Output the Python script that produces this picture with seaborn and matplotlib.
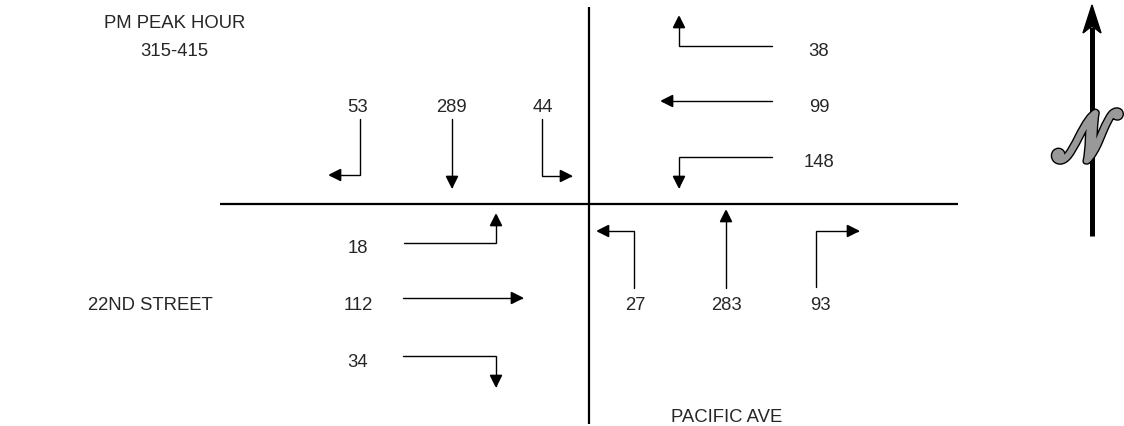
import matplotlib
matplotlib.use("Agg")
import matplotlib.pyplot as plt
import seaborn as sns
from matplotlib.patches import FancyArrowPatch, Polygon
from matplotlib.path import Path
import matplotlib.patheffects as pe

# ---- data ----
title_lines = ["PM PEAK HOUR", "315-415"]
street_ew = "22ND STREET"
street_ns = "PACIFIC AVE"
sb_labels = ["53", "289", "44"]          # SB: right turn(west), through, left turn(east)
wb_labels = ["38", "99", "148"]          # WB: right turn(north), through, left turn(south)
eb_labels = ["18", "112", "34"]          # EB: left turn(north), through, right turn(south)
nb_labels = ["27", "283", "93"]          # NB: left turn(west), through, right turn(east)

sns.set_theme(style="white")
plt.rcParams['font.family'] = ['Liberation Sans', 'DejaVu Sans']
plt.rcParams['mathtext.fontset'] = 'stix'

fig = plt.figure(figsize=(11.24, 4.27), dpi=100)
ax = fig.add_axes([0, 0, 1, 1])
ax.set_xlim(0, 1124)
ax.set_ylim(427, 0)
ax.axis("off")

FS = 13.3
# roads
ax.plot([220, 958], [205, 205], color="black", lw=1.6, solid_capstyle="butt")
ax.plot([589, 589], [8, 425], color="black", lw=1.6, solid_capstyle="butt")

def arrow(verts):
    codes = [Path.MOVETO] + [Path.LINETO] * (len(verts) - 1)
    p = FancyArrowPatch(path=Path(verts, codes),
                        arrowstyle="-|>,head_length=8,head_width=4",
                        mutation_scale=1, color="black", lw=1.0,
                        shrinkA=0, shrinkB=0, joinstyle="miter")
    ax.add_patch(p)

# SB
sb_x = [358, 451, 543]
for x, t in zip(sb_x, sb_labels):
    ax.text(x, 108, t, fontsize=FS, ha="center", va="center")
arrow([(360, 120), (360, 176), (328, 176)])
arrow([(452, 120), (452, 190)])
arrow([(542, 120), (542, 177), (573, 177)])

# WB
wb_y = [52, 108, 163]
for y, t in zip(wb_y, wb_labels):
    ax.text(819, y, t, fontsize=FS, ha="center", va="center")
arrow([(772, 47), (679, 47), (679, 16)])
arrow([(772, 102), (660, 102)])
arrow([(772, 158), (679, 158), (679, 190)])

# EB
eb_y = [249, 306, 363]
for y, t in zip(eb_y, eb_labels):
    ax.text(358, y, t, fontsize=FS, ha="center", va="center")
arrow([(404, 244), (496, 244), (496, 214)])
arrow([(403, 299), (524, 299)])
arrow([(403, 357), (496, 357), (496, 389)])

# NB
nb_x = [635, 727, 820]
for x, t in zip(nb_x, nb_labels):
    ax.text(x, 306, t, fontsize=FS, ha="center", va="center")
arrow([(634, 289), (634, 232), (596, 232)])
arrow([(726, 289), (726, 210)])
arrow([(816, 288), (816, 232), (860, 232)])

# street names and title
ax.text(150, 306, street_ew, fontsize=FS, ha="center", va="center")
ax.text(727, 418, street_ns, fontsize=FS, ha="center", va="center")
ax.text(175, 23, title_lines[0], fontsize=FS, ha="center", va="center")
ax.text(174, 52, title_lines[1], fontsize=FS, ha="center", va="center")

# north arrow
ax.plot([1092, 1092], [237, 28], color="black", lw=3.6, solid_capstyle="butt")
ax.add_patch(Polygon([(1092, 6), (1083, 34), (1092, 27), (1101, 34)],
                     closed=True, color="black"))
ax.text(1087, 143, r"$\mathscr{N}$", fontsize=52, ha="center", va="center",
        color="#999999",
        path_effects=[pe.Stroke(linewidth=5, foreground="black"),
                      pe.Stroke(linewidth=3, foreground="#999999"),
                      pe.Normal()])

fig.savefig("out.png", dpi=100)
